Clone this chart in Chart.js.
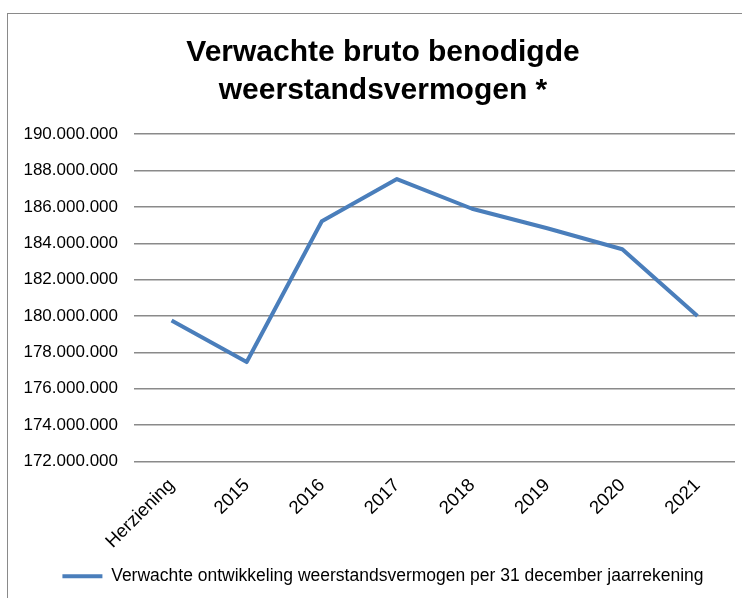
<!DOCTYPE html>
<html lang="nl">
<head>
<meta charset="utf-8">
<title>Verwachte bruto benodigde weerstandsvermogen</title>
<script src="https://cdn.jsdelivr.net/npm/chart.js@4/dist/chart.umd.min.js"></script>
<style>
  html, body { margin: 0; padding: 0; background: #fff; overflow: hidden; }
  body { width: 742px; height: 598px; position: relative; }
  #frame {
    position: absolute; left: 7px; top: 13px;
    width: 760px; height: 620px;
    border: 1.5px solid #8a8a8a; box-sizing: border-box;
  }
  #wrap { position: absolute; left: 8px; top: 14px; width: 750px; height: 584px; }
</style>
</head>
<body>
<div id="frame"></div>
<div id="wrap"><canvas id="chart"></canvas></div>
<script>
// Categories and series values
const categories = ['Herziening', '2015', '2016', '2017', '2018', '2019', '2020', '2021'];
const weerstandsvermogen = [179750000, 177470000, 185210000, 187530000, 185900000, 184830000, 183670000, 180000000];
const seriesLabel = 'Verwachte ontwikkeling weerstandsvermogen per 31 december jaarrekening';
const titleLines = ['Verwachte bruto benodigde', 'weerstandsvermogen *'];
// Value axis ticks
const yMin = 172000000;
const yMax = 190000000;
const yStep = 2000000;

// Dutch thousands separators: 190.000.000
function formatNL(v) {
  return String(Math.round(v)).replace(/\B(?=(\d{3})+(?!\d))/g, '.');
}

const FONT = '"Liberation Sans", Arial, sans-serif';
const GRID = '#8a8a8a';
const BLUE = '#4a7ebb';

// Centre the title and legend on the whole frame rather than on the padded area
const CENTRE_SHIFT = 11.5;
const centreBlocks = {
  id: 'centreBlocks',
  afterLayout(chart) {
    [chart.titleBlock, chart.legend].forEach((b) => {
      if (b) { b.left += CENTRE_SHIFT; b.right += CENTRE_SHIFT; }
    });
  }
};

new Chart(document.getElementById('chart'), {
  type: 'line',
  data: {
    labels: categories,
    datasets: [{
      label: seriesLabel,
      data: weerstandsvermogen,
      borderColor: BLUE,
      backgroundColor: BLUE,
      borderWidth: 4,
      tension: 0,
      pointRadius: 0,
      pointHoverRadius: 0,
      borderJoinStyle: 'round',
      fill: false
    }]
  },
  plugins: [centreBlocks],
  options: {
    responsive: true,
    maintainAspectRatio: false,
    animation: false,
    devicePixelRatio: 1,
    layout: { padding: { left: 0, right: 23, top: 0, bottom: 3 } },
    plugins: {
      title: {
        display: true,
        text: titleLines,
        color: '#000',
        font: { family: FONT, size: 30, weight: 'bold', lineHeight: 1.27 },
        padding: { top: 20, bottom: 24 }
      },
      legend: {
        position: 'bottom',
        labels: {
          color: '#000',
          font: { family: FONT, size: 17.5 },
          usePointStyle: true,
          pointStyle: 'line',
          pointStyleWidth: 40,
          boxWidth: 40,
          padding: 10
        }
      },
      tooltip: { enabled: false }
    },
    scales: {
      x: {
        offset: true,
        grid: { display: false, drawTicks: false },
        border: { display: false },
        ticks: {
          color: '#000',
          font: { family: FONT, size: 18.5 },
          maxRotation: 45,
          minRotation: 45,
          padding: 13,
          autoSkip: false
        },
        afterFit: (scale) => { scale.height = 96; }
      },
      y: {
        min: yMin,
        max: yMax,
        grid: { color: GRID, lineWidth: 1.5, drawTicks: false },
        border: { display: false },
        ticks: {
          stepSize: yStep,
          color: '#000',
          font: { family: FONT, size: 17 },
          padding: 16,
          callback: (v) => formatNL(v)
        },
        afterFit: (scale) => { scale.width = 126; }
      }
    }
  }
});
</script>
</body>
</html>
